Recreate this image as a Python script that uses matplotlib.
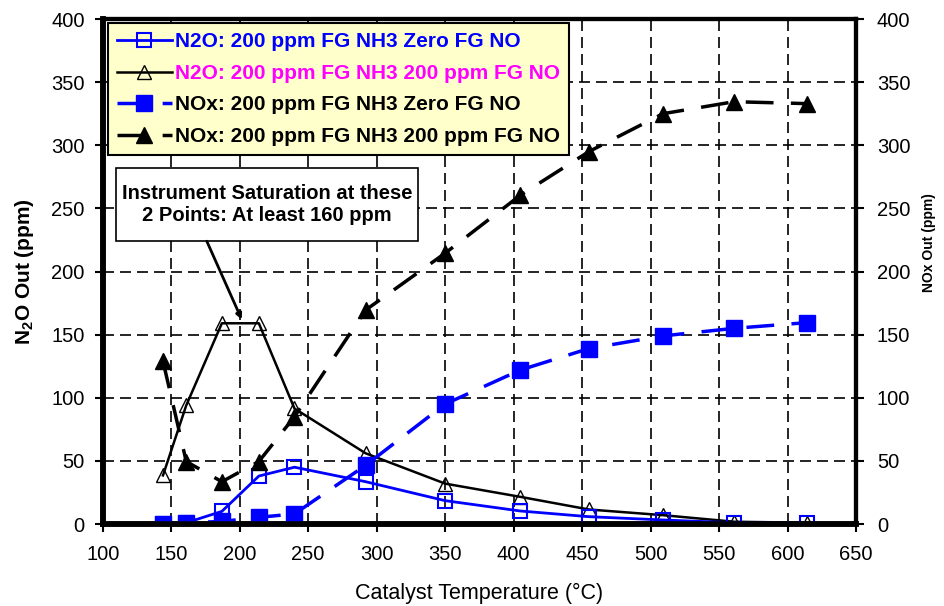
import matplotlib
matplotlib.use("Agg")
import matplotlib.pyplot as plt
from matplotlib.patches import Rectangle

plt.rcParams['font.family'] = ['Liberation Sans', 'DejaVu Sans']
plt.rcParams['mathtext.fontset'] = 'custom'
plt.rcParams['mathtext.rm'] = 'Liberation Sans'
plt.rcParams['mathtext.bf'] = 'Liberation Sans:bold'

# catalyst temperatures (deg C)
temp = [144, 161, 187, 214, 240, 292, 350, 405, 455, 509, 561, 614]

# N2O out (ppm), left axis
n2o_zero_no = [0, 1, 10, 38, 45, 33.5, 18.5, 10.3, 5.8, 3.2, 1, 0.5]
n2o_200_no = [38.5, 94, 159, 159, 91.5, 56, 32, 21.5, 11.5, 7, 1.8, 1]

# NOx out (ppm), right axis
nox_zero_no = [0, 1, 2, 5.3, 8, 46.5, 95, 122, 139, 149, 155, 159.5]
nox_200_no = [129, 49.5, 33.5, 49.5, 85, 169.5, 214.5, 260.5, 295, 325, 334.5, 333]

legend_labels = ["N2O: 200 ppm FG NH3 Zero FG NO",
                 "N2O: 200 ppm FG NH3 200 ppm FG NO",
                 "NOx: 200 ppm FG NH3 Zero FG NO",
                 "NOx: 200 ppm FG NH3 200 ppm FG NO"]
legend_colors = ['#0000FF', '#FF00FF', 'black', 'black']

fig = plt.figure(figsize=(9.44, 6.06), dpi=100)
ax = fig.add_axes([0.1088, 0.1353, 0.798, 0.8333])
ax2 = ax.twinx()

dash_long = (0, (8, 5))

h1, = ax.plot(temp, n2o_zero_no, color='#0000FF', lw=2, marker='s', ms=10,
              mfc='none', mec='#0000FF', mew=1.5, zorder=4)
h2, = ax.plot(temp, n2o_200_no, color='black', lw=1.8, marker='^', ms=10,
              mfc='none', mec='black', mew=1.0, zorder=3)
h3, = ax2.plot(temp, nox_zero_no, color='#0000FF', lw=2.5, ls=dash_long,
               marker='s', ms=11, mfc='#0000FF', mec='#0000FF')
h4, = ax2.plot(temp, nox_200_no, color='black', lw=2.5, ls=dash_long,
               marker='^', ms=11, mfc='black', mec='black')

for a in (ax, ax2):
    a.set_xlim(100, 650)
    a.set_ylim(0, 400)
    a.set_yticks(range(0, 401, 50))
    a.spines['left'].set_linewidth(4)
    a.spines['bottom'].set_linewidth(4)
    a.spines['top'].set_linewidth(3)
    a.spines['right'].set_linewidth(3)
    a.tick_params(direction='out', length=6, width=1.5, labelsize=14.5)

ax.set_xticks(range(100, 651, 50))
ax.tick_params(axis='y', pad=7)
ax.tick_params(axis='x', pad=9)
ax2.tick_params(axis='y', pad=9)
ax.grid(True, color='black', lw=1.2, ls=(0, (6.6, 3.6)))
ax.set_axisbelow(True)

ax.set_xlabel("Catalyst Temperature (°C)", fontsize=15.5, labelpad=14)
ax.set_ylabel(r"N$_\mathbf{2}$O Out (ppm)", fontsize=15, fontweight='bold')
ax.yaxis.set_label_coords(-0.088, 0.5)
ax2.set_ylabel("NOx Out (ppm)", fontsize=10, fontweight='bold')
ax2.yaxis.set_label_coords(1.088, 0.557)

# saturation note: boxed text with a pointer to the clipped peak
ax2.add_patch(Rectangle((109.7, 224), 220.6, 57.8, fc='white', ec='black',
                        lw=1.2, zorder=6))
ax2.text(220, 253, "Instrument Saturation at these\n2 Points: At least 160 ppm",
         ha='center', va='center', fontsize=14.5, fontweight='bold',
         linespacing=1.2, zorder=7)
ax2.annotate("", xy=(201.5, 162), xytext=(176, 224),
             arrowprops=dict(arrowstyle='-|>', color='black', lw=2,
                             mutation_scale=8, shrinkA=0, shrinkB=0),
             zorder=6)

leg = ax2.legend([h1, h2, h3, h4], legend_labels, loc='upper left',
                 bbox_to_anchor=(0.007, 0.992), borderaxespad=0,
                 prop={'weight': 'bold', 'size': 15},
                 handlelength=2.6, handletextpad=0.15, labelspacing=0.6,
                 fancybox=False, framealpha=1, facecolor='#FFFFCC',
                 edgecolor='black', borderpad=0.45)
leg.get_frame().set_linewidth(1.5)
leg.set_zorder(10)
for txt, c in zip(leg.get_texts(), legend_colors):
    txt.set_color(c)

fig.savefig("out.png", dpi=100)
